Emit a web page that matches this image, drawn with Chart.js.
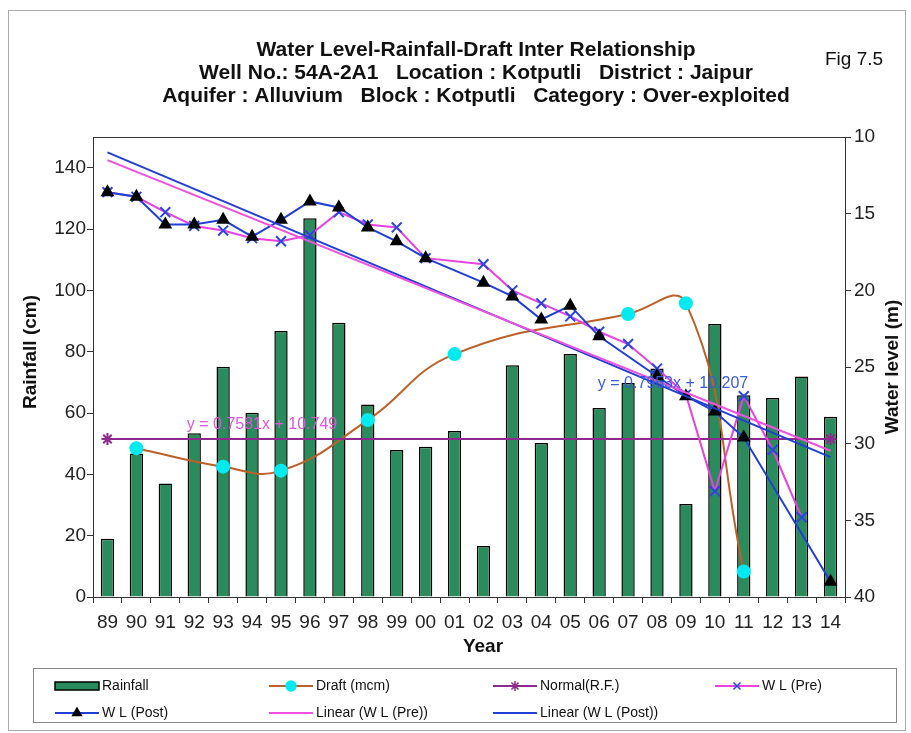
<!DOCTYPE html>
<html>
<head>
<meta charset="utf-8">
<title>Water Level-Rainfall-Draft Inter Relationship</title>
<script src="https://cdn.jsdelivr.net/npm/chart.js@4.4.1/dist/chart.umd.min.js"></script>
<style>
  body { margin: 0; background: #fff; }
  canvas { display: block; }
</style>
</head>
<body>
<canvas id="wlChart" width="911" height="733"></canvas>
<script>
const years = ["89", "90", "91", "92", "93", "94", "95", "96", "97", "98", "99", "00", "01",
  "02", "03", "04", "05", "06", "07", "08", "09", "10", "11", "12", "13", "14"];

// rainfall in cm (left axis)
const rainfall = [19, 46.8, 37, 53.4, 75.1, 60.1, 86.7, 123.5, 89.4, 62.8, 47.9, 49, 54.1,
  16.6, 75.6, 50.2, 79.2, 61.6, 69.8, 74.5, 30.3, 89, 65.8, 64.9, 71.9, 58.8];

// draft in mcm (left axis), only some years
const draft = [null, 48.5, null, null, 42.5, null, 41.2, null, null, 57.7, null, null, 79.2,
  null, null, null, null, null, 92.3, null, 95.8, null, 8.3, null, null, null];

// normal rainfall, drawn from first to last year
const normalRF = 51.5;

// water level in m (right axis, reversed)
const wlPre = [13.6, 13.9, 14.9, 15.8, 16.1, 16.6, 16.8, 16.4, 14.9, 15.7, 15.9, 17.9, null,
  18.3, 20.0, 20.85, 21.7, 22.7, 23.5, 25.1, 26.8, 33.1, 26.9, 30.4, 34.8, null];
const wlPost = [13.6, 13.9, 15.7, 15.7, 15.4, 16.5, 15.4, 14.2, 14.6, 15.9, 16.8, 17.9, null,
  19.5, 20.4, 21.9, 21.0, 23.0, null, 25.6, 26.9, 27.9, 29.6, null, null, 39.0];

// linear trend lines: value at first and last year
const trendPre = [11.51, 30.46];
const trendPost = [11.0, 30.88];
const eqPre = "y = 0.7581x + 10.749";
const eqPost = "y = 0.7953x + 10.207";

const leftTicks = [0, 20, 40, 60, 80, 100, 120, 140];
const rightTicks = [10, 15, 20, 25, 30, 35, 40];

const font = "'Liberation Sans', Arial, sans-serif";

function ends(pair) {
  return years.map((y, i) => (i === 0 ? pair[0] : i === years.length - 1 ? pair[1] : null));
}

function marker(ctx, style, x, y, r, fill, stroke) {
  ctx.save();
  ctx.fillStyle = fill;
  ctx.strokeStyle = stroke;
  ctx.lineWidth = 1.5;
  Chart.helpers.drawPoint(ctx, { pointStyle: style, rotation: 0, radius: r, borderWidth: 1.5 }, x, y);
  ctx.restore();
}

const textPlugin = {
  id: "chartText",
  beforeDraw(chart) {
    const ctx = chart.ctx;
    ctx.save();
    ctx.fillStyle = "#fff";
    ctx.fillRect(0, 0, chart.width, chart.height);
    ctx.strokeStyle = "#aaa";
    ctx.lineWidth = 1;
    ctx.strokeRect(8.5, 10.5, 897, 720);
    ctx.restore();
  },
  afterDatasetsDraw(chart) {
    const ctx = chart.ctx;
    ctx.save();
    ctx.font = "16px " + font;
    ctx.textAlign = "center";
    ctx.textBaseline = "middle";
    ctx.fillStyle = "#dd55dd";
    ctx.fillText(eqPre, 262, 425);
    ctx.fillStyle = "#3a5be0";
    ctx.fillText(eqPost, 673, 384);
    ctx.restore();
  },
  afterDraw(chart) {
    const ctx = chart.ctx;
    const area = chart.chartArea;
    ctx.save();

    // top border of plot area
    ctx.strokeStyle = "#333";
    ctx.lineWidth = 1;
    ctx.beginPath();
    ctx.moveTo(area.left, area.top + 0.5);
    ctx.lineTo(area.right, area.top + 0.5);
    ctx.stroke();

    // titles
    ctx.fillStyle = "#111";
    ctx.textAlign = "center";
    ctx.textBaseline = "middle";
    ctx.font = "bold 21px " + font;
    ctx.fillText("Water Level-Rainfall-Draft Inter Relationship", 476, 50);
    ctx.fillText("Well No.: 54A-2A1   Location : Kotputli   District : Jaipur", 476, 73);
    ctx.fillText("Aquifer : Alluvium   Block : Kotputli   Category : Over-exploited", 476, 96);
    ctx.font = "19px " + font;
    ctx.fillText("Fig 7.5", 854, 60);

    // axis titles
    ctx.font = "bold 19px " + font;
    ctx.fillText("Year", 483, 647);
    ctx.save();
    ctx.translate(31, 352);
    ctx.rotate(-Math.PI / 2);
    ctx.fillText("Rainfall (cm)", 0, 0);
    ctx.restore();
    ctx.save();
    ctx.translate(893, 367);
    ctx.rotate(-Math.PI / 2);
    ctx.fillText("Water level (m)", 0, 0);
    ctx.restore();

    // legend
    ctx.strokeStyle = "#888";
    ctx.strokeRect(33.5, 668.5, 863, 54);
    const ds = chart.data.datasets;
    const items = [
      { i: 0, x: 55, y: 686 },
      { i: 1, x: 269, y: 686 },
      { i: 2, x: 493, y: 686 },
      { i: 3, x: 715, y: 686 },
      { i: 4, x: 55, y: 713 },
      { i: 5, x: 269, y: 713 },
      { i: 6, x: 493, y: 713 }
    ];
    ctx.font = "14px " + font;
    ctx.textAlign = "left";
    items.forEach((it) => {
      const d = ds[it.i];
      const w = 44;
      if (d.type === "bar") {
        ctx.fillStyle = d.backgroundColor;
        ctx.fillRect(it.x, it.y - 4, w, 8);
        ctx.strokeStyle = "#000";
        ctx.lineWidth = 1.5;
        ctx.strokeRect(it.x, it.y - 4, w, 8);
      } else {
        ctx.strokeStyle = d.borderColor;
        ctx.lineWidth = 2;
        ctx.beginPath();
        ctx.moveTo(it.x, it.y);
        ctx.lineTo(it.x + w, it.y);
        ctx.stroke();
        if (d.pointRadius > 0) {
          marker(ctx, d.pointStyle, it.x + w / 2, it.y, 5, d.pointBackgroundColor, d.pointBorderColor);
        }
      }
      ctx.fillStyle = "#111";
      ctx.fillText(d.label, it.x + w + 3, it.y);
    });
    ctx.restore();
  }
};

const ctx = document.getElementById("wlChart").getContext("2d");

new Chart(ctx, {
  type: "bar",
  data: {
    labels: years,
    datasets: [
      {
        type: "bar",
        label: "Rainfall",
        data: rainfall,
        yAxisID: "y",
        backgroundColor: "#2a8c5c",
        borderColor: "#000",
        borderWidth: 1.5,
        barPercentage: 0.46,
        categoryPercentage: 1,
        order: 10
      },
      {
        type: "line",
        label: "Draft (mcm)",
        data: draft,
        yAxisID: "y",
        borderColor: "#bd6028",
        borderWidth: 2,
        pointStyle: "circle",
        pointRadius: 6,
        pointBackgroundColor: "#00eaf0",
        pointBorderColor: "#00eaf0",
        tension: 0.45,
        spanGaps: true,
        order: 5
      },
      {
        type: "line",
        label: "Normal(R.F.)",
        data: ends([normalRF, normalRF]),
        yAxisID: "y",
        borderColor: "#8e2a8e",
        borderWidth: 2,
        pointStyle: "star",
        pointRadius: 6,
        pointBackgroundColor: "#8e2a8e",
        pointBorderColor: "#8e2a8e",
        pointBorderWidth: 2,
        spanGaps: true,
        order: 4
      },
      {
        type: "line",
        label: "W L (Pre)",
        data: wlPre,
        yAxisID: "y1",
        borderColor: "#e842e0",
        borderWidth: 2,
        pointStyle: "crossRot",
        pointRadius: 7,
        pointBackgroundColor: "#2a45e0",
        pointBorderColor: "#2a45e0",
        pointBorderWidth: 2,
        spanGaps: true,
        order: 3
      },
      {
        type: "line",
        label: "W L (Post)",
        data: wlPost,
        yAxisID: "y1",
        borderColor: "#1f3fd6",
        borderWidth: 2,
        pointStyle: "triangle",
        pointRadius: 6,
        pointBackgroundColor: "#000",
        pointBorderColor: "#000",
        spanGaps: true,
        order: 2
      },
      {
        type: "line",
        label: "Linear (W L (Pre))",
        data: ends(trendPre),
        yAxisID: "y1",
        borderColor: "#f050e0",
        borderWidth: 2,
        pointRadius: 0,
        spanGaps: true,
        order: 1
      },
      {
        type: "line",
        label: "Linear (W L (Post))",
        data: ends(trendPost),
        yAxisID: "y1",
        borderColor: "#1f3fd6",
        borderWidth: 2,
        pointRadius: 0,
        spanGaps: true,
        order: 1
      }
    ]
  },
  options: {
    responsive: false,
    animation: false,
    layout: { padding: { top: 137, left: 0, right: 0, bottom: 0 } },
    plugins: {
      legend: { display: false },
      title: { display: false },
      tooltip: { enabled: false }
    },
    scales: {
      x: {
        offset: true,
        grid: { display: true, drawOnChartArea: false, offset: true, tickLength: 6, color: "#333" },
        border: { color: "#333" },
        ticks: { color: "#222", font: { family: font, size: 19 }, padding: 8, maxRotation: 0, autoSkip: false },
        afterFit: (s) => { s.height = 136; }
      },
      y: {
        position: "left",
        min: 0,
        max: 150,
        afterBuildTicks: (s) => { s.ticks = leftTicks.map((v) => ({ value: v })); },
        grid: { drawOnChartArea: false, tickLength: 6, color: "#333" },
        border: { color: "#333" },
        ticks: { color: "#222", font: { family: font, size: 19 }, padding: 1 },
        afterFit: (s) => { s.width = 93; }
      },
      y1: {
        position: "right",
        min: 10,
        max: 40,
        reverse: true,
        afterBuildTicks: (s) => { s.ticks = rightTicks.map((v) => ({ value: v })); },
        grid: { drawOnChartArea: false, tickLength: 6, color: "#333" },
        border: { color: "#333" },
        ticks: { color: "#222", font: { family: font, size: 19 }, padding: 3 },
        afterFit: (s) => { s.width = 66; }
      }
    }
  },
  plugins: [textPlugin]
});
</script>
</body>
</html>
